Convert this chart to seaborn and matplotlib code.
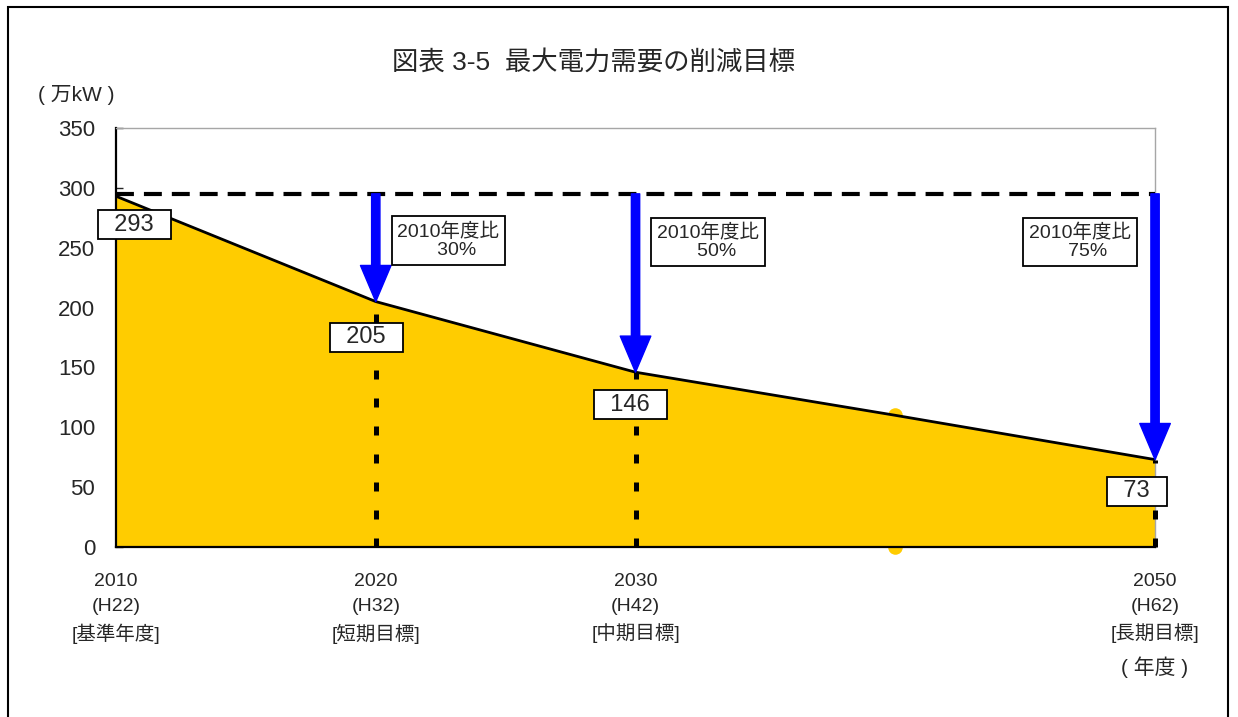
import pandas as pd
import matplotlib.pyplot as plt
import matplotlib.patches as patches
import seaborn as sns

sns.set_theme(style="white")
plt.rcParams['font.family'] = ['Liberation Sans', 'Noto Sans CJK JP', 'DejaVu Sans']

# データ
years = [2010, 2020, 2030, 2040, 2050]
demand = [293, 205, 146, 110, 73]
base_level = 295
target_years = [2020, 2030, 2050]
target_values = [205, 146, 73]
target_rates = ["30%", "50%", "75%"]
tick_labels = ["2010\n(H22)\n[基準年度]", "2020\n(H32)\n[短期目標]",
               "2030\n(H42)\n[中期目標]", "2050\n(H62)\n[長期目標]"]
tick_years = [2010, 2020, 2030, 2050]

df = pd.DataFrame({"年度": years, "万kW": demand})

fig = plt.figure(figsize=(12.38, 7.17), dpi=100)
ax = fig.add_axes([0.0937, 0.2371, 0.8393, 0.5844])

ax.fill_between(df["年度"], df["万kW"], 0, color="#FFCC00", lw=0, zorder=1)
sns.lineplot(data=df, x="年度", y="万kW", color="black", lw=2, ax=ax, zorder=3)

# 2040 の黄色い点
ax.scatter([2040, 2040], [demand[3], 0], s=110, color="#FFCC00", zorder=2, clip_on=False, lw=0)

# 基準線
ax.plot([years[0], years[-1]], [base_level, base_level], color="black", lw=3,
        ls=(0, (4.3, 2.4)), zorder=4)

for yr, val, rate, lx, ly in zip(target_years, target_values, target_rates,
                                 [2022.8, 2032.8, 2047.1], [256, 255, 255]):
    ax.plot([yr, yr], [0, val], color="black", lw=3.6, ls=(0, (1.8, 3.8)), zorder=4, clip_on=False)
    ax.annotate("", xy=(yr, val), xytext=(yr, base_level),
                arrowprops=dict(color="#0000FF", width=6, headwidth=22, headlength=26, shrink=0),
                zorder=5, annotation_clip=False)
    ax.text(lx, ly, "2010年度比\n   " + rate, ha="center", va="center", fontsize=14,
            multialignment="center", linespacing=1.1, zorder=6,
            bbox=dict(boxstyle="square,pad=0.3", fc="white", ec="black", lw=1.3))

# 数値ラベル
for lx, ly, val in zip([2010.7, 2019.63, 2029.8, 2049.3], [269, 175, 119, 46.7],
                       [demand[0], demand[1], demand[2], demand[4]]):
    ax.text(lx, ly, "  %d  " % val, ha="center", va="center", fontsize=17, zorder=6,
            bbox=dict(boxstyle="square,pad=0.15", fc="white", ec="black", lw=1.3))

ax.set_xlim(2010, 2050)
ax.set_ylim(0, 350)
ax.set_yticks(range(0, 351, 50))
ax.set_xticks(tick_years)
ax.set_xticklabels(tick_labels, fontsize=14, linespacing=1.55)
ax.tick_params(axis="y", labelsize=16, direction="in", length=5, width=1, pad=15, left=True)
ax.tick_params(axis="x", direction="in", length=5, width=0.8, pad=19, bottom=True)
ax.set_xlabel("")
ax.set_ylabel("")

for side in ["left", "bottom"]:
    ax.spines[side].set_color("black")
    ax.spines[side].set_linewidth(1.6)
for side in ["top", "right"]:
    ax.spines[side].set_color("#A6A6A6")
    ax.spines[side].set_linewidth(1)

fig.text(593 / 1238, 1 - 62 / 717, "図表 3-5  最大電力需要の削減目標", ha="center", va="center", fontsize=19)
fig.text(76 / 1238, 1 - 95 / 717, "( 万kW )", ha="center", va="center", fontsize=15)
fig.text(1155 / 1238, 1 - 667 / 717, "( 年度 )", ha="center", va="center", fontsize=15)

fig.patches.append(patches.Rectangle((8 / 1238, -0.05), 1220 / 1238, 1.05 - 7 / 717,
                                     transform=fig.transFigure, fill=False, ec="black", lw=1.5))

fig.savefig("out.png", dpi=100)
